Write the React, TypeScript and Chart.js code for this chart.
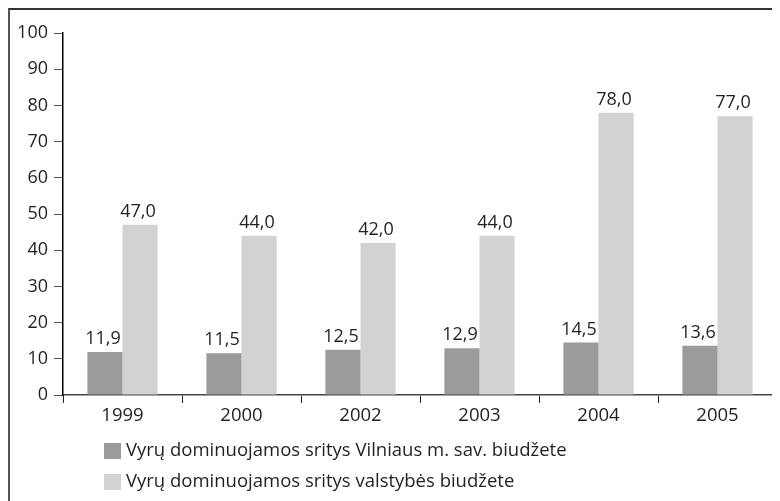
import React, { useEffect, useRef } from "react";
import { Chart, registerables } from "chart.js";

Chart.register(...registerables);

const categories = ["1999", "2000", "2002", "2003", "2004", "2005"];
const seriesNames = [
  "Vyrų dominuojamos sritys Vilniaus m. sav. biudžete",
  "Vyrų dominuojamos sritys valstybės biudžete",
];
const vilniusValues = [11.9, 11.5, 12.5, 12.9, 14.5, 13.6];
const stateValues = [47.0, 44.0, 42.0, 44.0, 78.0, 77.0];
const yTicks = [0, 10, 20, 30, 40, 50, 60, 70, 80, 90, 100];

const FONT = "'Open Sans', 'Noto Sans', sans-serif";
const TEXT = "#231f20";
const colors = ["#9b9b9b", "#d2d2d2"];

const valueLabels = {
  id: "valueLabels",
  afterDatasetsDraw(chart: any) {
    const ctx = chart.ctx;
    ctx.save();
    ctx.font = `18px ${FONT}`;
    ctx.fillStyle = TEXT;
    ctx.textAlign = "center";
    ctx.textBaseline = "alphabetic";
    chart.data.datasets.forEach((ds: any, i: number) => {
      const meta = chart.getDatasetMeta(i);
      meta.data.forEach((el: any, j: number) => {
        const txt = Number(ds.data[j]).toFixed(1).replace(".", ",");
        ctx.fillText(txt, el.x - 2, el.y - 8);
      });
    });
    ctx.restore();
  },
};

const customLegend = {
  id: "customLegend",
  afterDraw(chart: any) {
    const ctx = chart.ctx;
    ctx.save();
    ctx.font = `18.5px ${FONT}`;
    ctx.textAlign = "left";
    ctx.textBaseline = "middle";
    chart.data.datasets.forEach((ds: any, i: number) => {
      const y = 433 + i * 31;
      ctx.fillStyle = ds.backgroundColor;
      ctx.fillRect(94, y, 17, 16);
      ctx.fillStyle = TEXT;
      ctx.fillText(ds.label, 116, y + 8);
    });
    ctx.restore();
  },
};

export default function App() {
  const ref = useRef<HTMLCanvasElement>(null);
  useEffect(() => {
    if (!ref.current) return;
    const chart = new Chart(ref.current, {
      type: "bar",
      data: {
        labels: categories,
        datasets: [
          { label: seriesNames[0], data: vilniusValues, backgroundColor: colors[0] },
          { label: seriesNames[1], data: stateValues, backgroundColor: colors[1] },
        ],
      },
      options: {
        animation: false,
        responsive: false,
        layout: { padding: { top: 23, right: 3, bottom: 80, left: 0 } },
        datasets: { bar: { categoryPercentage: 0.59, barPercentage: 1 } },
        plugins: { legend: { display: false }, tooltip: { enabled: false } },
        scales: {
          x: {
            afterFit: (s: any) => { s.height = 26; },
            grid: { drawOnChartArea: false, drawTicks: true, tickLength: 8, color: "#222", offset: true },
            border: { color: "#444", width: 1.5 },
            ticks: { color: TEXT, font: { family: FONT, size: 18.5 }, padding: 2 },
          },
          y: {
            min: 0,
            max: 100,
            afterFit: (s: any) => { s.width = 53; },
            afterBuildTicks: (s: any) => { s.ticks = yTicks.map((v) => ({ value: v })); },
            grid: { drawOnChartArea: false, drawTicks: true, tickLength: 9, color: "#555" },
            border: { color: "#000", width: 1.5 },
            ticks: { color: TEXT, font: { family: FONT, size: 18 }, padding: 6 },
          },
        },
      },
      plugins: [valueLabels, customLegend],
    });
    return () => chart.destroy();
  }, []);
  return (
    <div style={{ borderTop: "2px solid #333", borderLeft: "2px solid #555", width: 770, height: 491 }}>
      <canvas ref={ref} width={770} height={491} style={{ display: "block" }} />
    </div>
  );
}
